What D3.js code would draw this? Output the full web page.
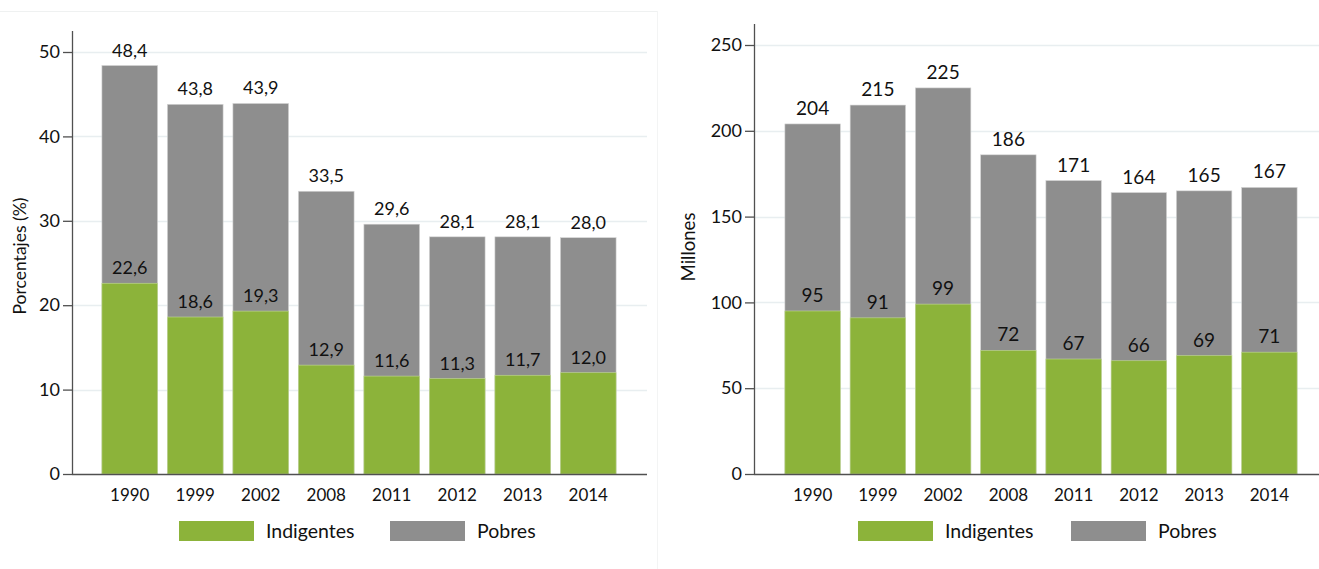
<!DOCTYPE html>
<html>
<head>
<meta charset="utf-8">
<script src="https://cdn.jsdelivr.net/npm/d3@7"></script>
<style>
  body { margin: 0; background: #fff; }
  svg { display: block; font-family: Lato, "Open Sans", sans-serif; }
</style>
</head>
<body>
<svg id="chart" width="1319" height="569"></svg>
<script>
var years = ['1990', '1999', '2002', '2008', '2011', '2012', '2013', '2014'];

// left panel, percentages
var pobresPct = [48.4, 43.8, 43.9, 33.5, 29.6, 28.1, 28.1, 28.0];
var indigPct = [22.6, 18.6, 19.3, 12.9, 11.6, 11.3, 11.7, 12.0];
var ticksPct = [0, 10, 20, 30, 40, 50];

// right panel, millions
var pobresMil = [204, 215, 225, 186, 171, 164, 165, 167];
var indigMil = [95, 91, 99, 72, 67, 66, 69, 71];
var ticksMil = [0, 50, 100, 150, 200, 250];

var legendNames = ['Indigentes', 'Pobres'];

var color = {
  indig: '#8cb33a',
  pobres: '#8e8e8e',
  axis: '#505050',
  grid: '#e8eef0'
};

var svg = d3.select('#chart');

// faint panel frame lines
svg.append('line').attr('x1', 0).attr('x2', 657).attr('y1', 11.5).attr('y2', 11.5)
  .style('stroke', '#eff1f1');
svg.append('line').attr('x1', 657.5).attr('x2', 657.5).attr('y1', 11).attr('y2', 569)
  .style('stroke', '#f3f4f4');

drawPanel({
  axisX: 72, right: 647, gridRight: 647, bandRange: [97, 621], axisTop: 31,
  yMax: 50, yTop: 52, ticks: ticksPct, pobres: pobresPct, indig: indigPct,
  fmt: function(v) { return d3.format('.1f')(v).replace('.', ','); },
  label: 'Porcentajes (%)', labelX: 20, labelY: 256, labelSize: 17.5, valueSize: 18,
  legendX: 179, legendStep: 211
});

drawPanel({
  axisX: 754, right: 1319, gridRight: 1319, bandRange: [780, 1302], axisTop: 24,
  yMax: 250, yTop: 45, ticks: ticksMil, pobres: pobresMil, indig: indigMil,
  fmt: function(v) { return String(v); },
  label: 'Millones', labelX: 689, labelY: 247, labelSize: 18.5, valueSize: 19,
  legendX: 858, legendStep: 213
});

function drawPanel(p) {
  var g = svg.append('g');
  var y0 = 474;

  var x = d3.scaleBand()
    .domain(years)
    .range(p.bandRange)
    .paddingInner(0.15)
    .paddingOuter(0.075);

  var y = d3.scaleLinear()
    .domain([0, p.yMax])
    .range([y0, p.yTop]);

  // gridlines
  g.append('g').selectAll('line')
    .data(p.ticks.slice(1))
    .enter().append('line')
    .attr('x1', p.axisX)
    .attr('x2', p.gridRight)
    .attr('y1', function(d) { return Math.round(y(d)) + 0.5; })
    .attr('y2', function(d) { return Math.round(y(d)) + 0.5; })
    .style('stroke', color.grid)
    .style('stroke-width', 1.5);

  // pobres (full height, gray)
  g.append('g').selectAll('rect')
    .data(p.pobres)
    .enter().append('rect')
    .attr('x', function(d, i) { return x(years[i]); })
    .attr('width', x.bandwidth())
    .attr('y', function(d) { return y(d); })
    .attr('height', function(d) { return y0 - y(d); })
    .style('fill', color.pobres)
    .style('stroke', '#d4d4d4')
    .style('stroke-width', 0.6);

  // indigentes overlay (green)
  g.append('g').selectAll('rect')
    .data(p.indig)
    .enter().append('rect')
    .attr('x', function(d, i) { return x(years[i]); })
    .attr('width', x.bandwidth())
    .attr('y', function(d) { return y(d); })
    .attr('height', function(d) { return y0 - y(d); })
    .style('fill', color.indig)
    .style('stroke', '#c3da98')
    .style('stroke-width', 0.6);

  // value labels
  g.append('g').selectAll('text')
    .data(p.pobres)
    .enter().append('text')
    .attr('x', function(d, i) { return x(years[i]) + x.bandwidth() / 2; })
    .attr('y', function(d) { return y(d) - 9; })
    .attr('text-anchor', 'middle')
    .style('font-size', p.valueSize + 'px')
    .style('fill', '#111')
    .text(p.fmt);

  g.append('g').selectAll('text')
    .data(p.indig)
    .enter().append('text')
    .attr('x', function(d, i) { return x(years[i]) + x.bandwidth() / 2; })
    .attr('y', function(d) { return y(d) - 9; })
    .attr('text-anchor', 'middle')
    .style('font-size', p.valueSize + 'px')
    .style('fill', '#111')
    .text(p.fmt);

  // y axis
  var yAxis = g.append('g')
    .attr('transform', 'translate(' + p.axisX + ',0)')
    .call(d3.axisLeft(y).tickValues(p.ticks).tickSize(9).tickSizeOuter(0).tickPadding(3));
  yAxis.select('.domain').remove();
  yAxis.selectAll('line').style('stroke', color.axis).style('stroke-width', 1.3);
  yAxis.selectAll('text').style('font-size', '18px').style('fill', '#111')
    .style('font-family', 'Lato, sans-serif');
  g.append('line')
    .attr('x1', p.axisX + 0.5).attr('x2', p.axisX + 0.5)
    .attr('y1', p.axisTop).attr('y2', y0)
    .style('stroke', color.axis).style('stroke-width', 1.3);

  // x axis baseline
  g.append('line')
    .attr('x1', p.axisX).attr('x2', p.right)
    .attr('y1', y0 + 0.5).attr('y2', y0 + 0.5)
    .style('stroke', color.axis).style('stroke-width', 1.3);

  // x labels
  var xAxis = g.append('g')
    .attr('transform', 'translate(0,' + y0 + ')')
    .call(d3.axisBottom(x).tickSize(0));
  xAxis.select('.domain').remove();
  xAxis.selectAll('text')
    .attr('y', 27)
    .attr('dy', 0)
    .style('font-size', '17px').style('fill', '#111')
    .style('font-family', 'Lato, sans-serif');

  // y label
  g.append('text')
    .attr('transform', 'translate(' + p.labelX + ',' + p.labelY + ') rotate(-90)')
    .attr('text-anchor', 'middle')
    .attr('dy', '0.35em')
    .style('font-size', p.labelSize + 'px')
    .style('fill', '#111')
    .text(p.label);

  // legend
  var legend = g.append('g').attr('transform', 'translate(' + p.legendX + ',521)');
  var lg = legend.selectAll('g')
    .data(legendNames)
    .enter().append('g')
    .attr('transform', function(d, i) { return 'translate(' + (i * p.legendStep) + ',0)'; });
  lg.append('rect')
    .attr('width', 75)
    .attr('height', 20)
    .style('fill', function(d, i) { return i === 0 ? color.indig : color.pobres; });
  lg.append('text')
    .attr('x', 87)
    .attr('y', 10)
    .attr('dy', '0.36em')
    .style('font-size', '19.5px')
    .style('fill', '#111')
    .text(function(d) { return d; });
}
</script>
</body>
</html>
